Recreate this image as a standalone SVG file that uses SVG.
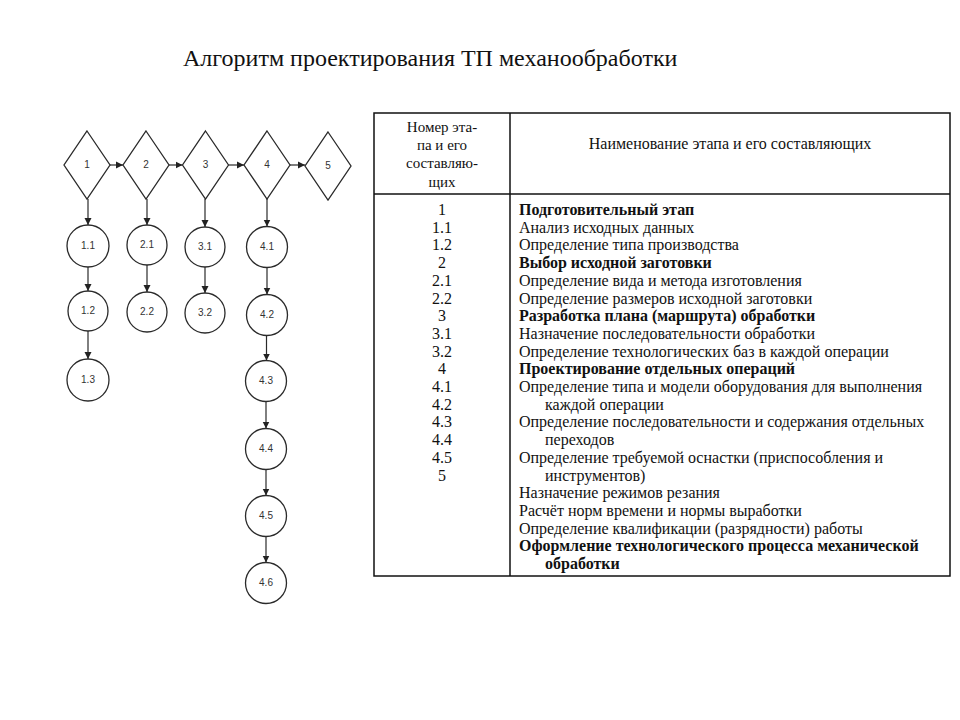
<svg xmlns="http://www.w3.org/2000/svg" width="960" height="720" viewBox="0 0 960 720">
<defs>
<marker id="ah" markerUnits="userSpaceOnUse" markerWidth="8" markerHeight="8" refX="7" refY="4" orient="auto">
<path d="M0,0.5 L7,4 L0,7.5 z" fill="#222"/>
</marker>
</defs>
<style>
.shape{fill:#fff;stroke:#2a2a2a;stroke-width:1.3}
.lbl{font-family:"Liberation Sans",Arial,sans-serif;font-size:10px;fill:#333;text-anchor:middle}
.con{stroke:#2a2a2a;stroke-width:1.2;fill:none;marker-end:url(#ah)}
.title{font-family:"Liberation Serif","Times New Roman",serif;font-size:24px;fill:#111}
.t{font-family:"Liberation Serif","Times New Roman",serif;font-size:16px;fill:#111}
.b{font-weight:bold}
.c{text-anchor:middle}
.grid{fill:none;stroke:#111;stroke-width:1.5}
</style>
<rect width="960" height="720" fill="#fff"/>
<text class="title" x="183" y="66">Алгоритм проектирования ТП механообработки</text>

<g id="connectors">
<line class="con" x1="110" y1="165" x2="123" y2="165"/>
<line class="con" x1="169" y1="165" x2="182.5" y2="165"/>
<line class="con" x1="228.5" y1="165" x2="244" y2="165"/>
<line class="con" x1="290" y1="165" x2="305" y2="165"/>
<line class="con" x1="88" y1="199" x2="88" y2="225"/>
<line class="con" x1="88" y1="267" x2="88" y2="291"/>
<line class="con" x1="88" y1="331" x2="88" y2="359"/>
<line class="con" x1="147" y1="199" x2="147" y2="225"/>
<line class="con" x1="147" y1="265" x2="147" y2="292"/>
<line class="con" x1="205" y1="199" x2="205" y2="227"/>
<line class="con" x1="205" y1="267" x2="205" y2="293"/>
<line class="con" x1="267" y1="199" x2="267" y2="226.5"/>
<line class="con" x1="267" y1="267.5" x2="267" y2="294.5"/>
<line class="con" x1="266.5" y1="335.5" x2="266.5" y2="360.5"/>
<line class="con" x1="266" y1="401.5" x2="266" y2="428.5"/>
<line class="con" x1="266" y1="469.5" x2="266" y2="495.5"/>
<line class="con" x1="266" y1="536.5" x2="266" y2="562.5"/>
</g>

<g id="d1"><polygon class="shape" points="87,131 110,165 87,199 64,165"/><text class="lbl" x="87" y="168">1</text></g>
<g id="d2"><polygon class="shape" points="146,131 169,165 146,199 123,165"/><text class="lbl" x="146" y="168">2</text></g>
<g id="d3"><polygon class="shape" points="205.5,131 228.5,165 205.5,199 182.5,165"/><text class="lbl" x="205.5" y="168">3</text></g>
<g id="d4"><polygon class="shape" points="267,131 290,165 267,199 244,165"/><text class="lbl" x="267" y="168">4</text></g>
<g id="d5"><polygon class="shape" points="328,132 351,166 328,200 305,166"/><text class="lbl" x="328" y="169">5</text></g>

<g id="n1-1"><circle class="shape" cx="88" cy="246" r="21"/><text class="lbl" x="88" y="249">1.1</text></g>
<g id="n1-2"><circle class="shape" cx="88" cy="311" r="20"/><text class="lbl" x="88" y="314">1.2</text></g>
<g id="n1-3"><circle class="shape" cx="88" cy="380" r="21"/><text class="lbl" x="88" y="383">1.3</text></g>
<g id="n2-1"><circle class="shape" cx="147" cy="245" r="20"/><text class="lbl" x="147" y="248">2.1</text></g>
<g id="n2-2"><circle class="shape" cx="147" cy="312" r="20"/><text class="lbl" x="147" y="315">2.2</text></g>
<g id="n3-1"><circle class="shape" cx="205" cy="247" r="20"/><text class="lbl" x="205" y="250">3.1</text></g>
<g id="n3-2"><circle class="shape" cx="205" cy="313" r="20"/><text class="lbl" x="205" y="316">3.2</text></g>
<g id="n4-1"><circle class="shape" cx="267" cy="247" r="20.5"/><text class="lbl" x="267" y="250">4.1</text></g>
<g id="n4-2"><circle class="shape" cx="267" cy="315" r="20.5"/><text class="lbl" x="267" y="318">4.2</text></g>
<g id="n4-3"><circle class="shape" cx="266" cy="381" r="20.5"/><text class="lbl" x="266" y="384">4.3</text></g>
<g id="n4-4"><circle class="shape" cx="266" cy="449" r="20.5"/><text class="lbl" x="266" y="452">4.4</text></g>
<g id="n4-5"><circle class="shape" cx="266" cy="516" r="20.5"/><text class="lbl" x="266" y="519">4.5</text></g>
<g id="n4-6"><circle class="shape" cx="266" cy="583" r="20.5"/><text class="lbl" x="266" y="586">4.6</text></g>

<g id="table">
<rect class="grid" x="374" y="113" width="576" height="463"/>
<line class="grid" x1="374" y1="194" x2="950" y2="194"/>
<line class="grid" x1="510" y1="113" x2="510" y2="576"/>
<g class="t c">
<text x="442" y="132" font-size="15">Номер эта-</text>
<text x="442" y="150" font-size="15">па и его</text>
<text x="442" y="168" font-size="15">составляю-</text>
<text x="442" y="187" font-size="15">щих</text>
<text x="730" y="149">Наименование этапа и его составляющих</text>
<text x="442" y="215">1</text>
<text x="442" y="232.7">1.1</text>
<text x="442" y="250.4">1.2</text>
<text x="442" y="268.1">2</text>
<text x="442" y="285.8">2.1</text>
<text x="442" y="303.5">2.2</text>
<text x="442" y="321.2">3</text>
<text x="442" y="338.9">3.1</text>
<text x="442" y="356.6">3.2</text>
<text x="442" y="374.3">4</text>
<text x="442" y="392">4.1</text>
<text x="442" y="409.7">4.2</text>
<text x="442" y="427.4">4.3</text>
<text x="442" y="445.1">4.4</text>
<text x="442" y="462.8">4.5</text>
<text x="442" y="480.5">5</text>
</g>
<g class="t">
<text class="b" x="519" y="215">Подготовительный этап</text>
<text x="519" y="232.7">Анализ исходных данных</text>
<text x="519" y="250.4">Определение типа производства</text>
<text class="b" x="519" y="268.1">Выбор исходной заготовки</text>
<text x="519" y="285.8">Определение вида и метода изготовления</text>
<text x="519" y="303.5">Определение размеров исходной заготовки</text>
<text class="b" x="519" y="321.2">Разработка плана (маршрута) обработки</text>
<text x="519" y="338.9">Назначение последовательности обработки</text>
<text x="519" y="356.6">Определение технологических баз в каждой операции</text>
<text class="b" x="519" y="374.3">Проектирование отдельных операций</text>
<text x="519" y="392">Определение типа и модели оборудования для выполнения</text>
<text x="545" y="409.7">каждой операции</text>
<text x="519" y="427.4">Определение последовательности и содержания отдельных</text>
<text x="545" y="445.1">переходов</text>
<text x="519" y="462.8">Определение требуемой оснастки (приспособления и</text>
<text x="545" y="480.5">инструментов)</text>
<text x="519" y="498.2">Назначение режимов резания</text>
<text x="519" y="515.9">Расчёт норм времени и нормы выработки</text>
<text x="519" y="533.6">Определение квалификации (разрядности) работы</text>
<text class="b" x="519" y="551.3">Оформление технологического процесса механической</text>
<text class="b" x="545" y="569">обработки</text>
</g>
</g>
</svg>
